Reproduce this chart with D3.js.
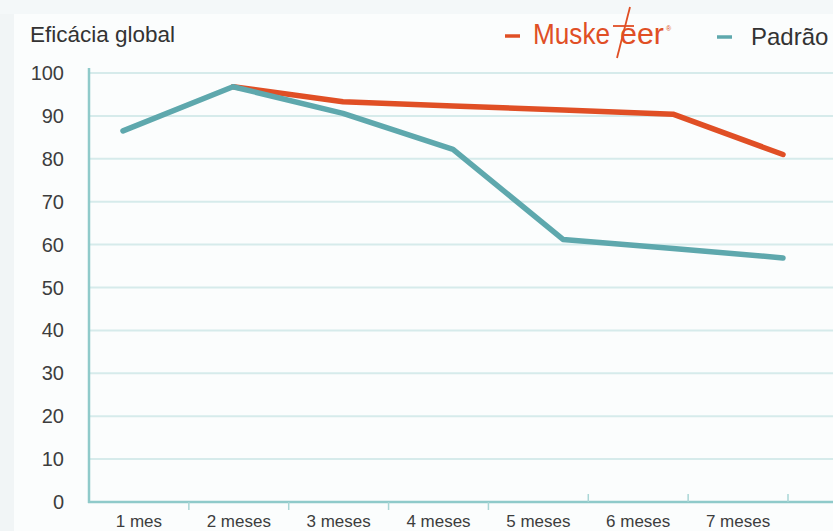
<!DOCTYPE html>
<html>
<head>
<meta charset="utf-8">
<script src="https://cdn.jsdelivr.net/npm/d3@7"></script>
<style>
  body { margin: 0; background: #fbfdfd; }
  svg { display: block; font-family: "Liberation Sans", Arial, sans-serif; }
</style>
</head>
<body>
<svg id="chart" width="833" height="531"></svg>
<script>
// Data
const months = ["1 mes", "2 meses", "3 meses", "4 meses", "5 meses", "6 meses", "7 meses"];
const musketeer = [null, 96.8, 93.3, 92.3, 91.4, 90.4, 81.0];
const padrao = [86.5, 96.8, 90.6, 82.2, 61.2, 59.1, 56.9];
const yTicks = [0, 10, 20, 30, 40, 50, 60, 70, 80, 90, 100];

const svg = d3.select("#chart");
const W = 833, H = 531;
const red = "#e04f25", teal = "#5ea8ad";

// background shading
svg.append("rect").attr("width", W).attr("height", H).attr("fill", "#fbfdfd");
svg.append("rect").attr("width", 14).attr("height", H).attr("fill", "#f1f5f6");
svg.append("rect").attr("width", W).attr("height", 14).attr("fill", "#f4f8f9");

// Scales
var x = d3.scaleBand().domain(months).range([89, 788]);
var xp = d3.scalePoint().domain(months).range([123, 783]);
var y = d3.scaleLinear().domain([0, 100]).range([502, 73]);

// Gridlines
svg.append("g")
    .selectAll("line")
    .data(yTicks.filter(d => d > 0))
    .enter()
    .append("line")
    .attr("x1", 89).attr("x2", W)
    .attr("y1", d => y(d)).attr("y2", d => y(d))
    .attr("stroke", "#d6ebeb")
    .attr("stroke-width", 2);

// Y axis labels
svg.append("g")
    .selectAll("text")
    .data(yTicks)
    .enter()
    .append("text")
    .attr("x", 64)
    .attr("y", d => y(d) + 7)
    .attr("text-anchor", "end")
    .attr("font-size", 20)
    .attr("fill", "#3d3d3d")
    .text(d => d);

// Axis lines
svg.append("line")
    .attr("x1", 89).attr("x2", 89).attr("y1", 68).attr("y2", 503)
    .attr("stroke", "#8fcaca").attr("stroke-width", 2.5);
svg.append("line")
    .attr("x1", 88).attr("x2", W).attr("y1", y(0)).attr("y2", y(0))
    .attr("stroke", "#8fcaca").attr("stroke-width", 2.5);

// Tick marks between categories
svg.append("g")
    .selectAll("line")
    .data(months)
    .enter()
    .append("line")
    .attr("x1", d => x(d) + x.bandwidth()).attr("x2", d => x(d) + x.bandwidth())
    .attr("y1", (d, i) => i < 4 ? y(0) : y(0) - 8)
    .attr("y2", (d, i) => i < 4 ? y(0) + 8 : y(0))
    .attr("stroke", "#a9d6d6").attr("stroke-width", 1.5);

// X axis labels
svg.append("g")
    .selectAll("text")
    .data(months)
    .enter()
    .append("text")
    .attr("x", d => x(d) + x.bandwidth() / 2)
    .attr("y", 527)
    .attr("text-anchor", "middle")
    .attr("font-size", 17)
    .attr("fill", "#3d3d3d")
    .text(d => d);

// Lines
const line = d3.line()
    .defined(d => d.v != null)
    .x(d => xp(d.m))
    .y(d => y(d.v));

svg.append("path")
    .datum(months.map((m, i) => ({ m: m, v: musketeer[i] })))
    .attr("d", line)
    .attr("fill", "none")
    .attr("stroke", red)
    .attr("stroke-width", 5.5)
    .attr("stroke-linejoin", "round")
    .attr("stroke-linecap", "round");

svg.append("path")
    .datum(months.map((m, i) => ({ m: m, v: padrao[i] })))
    .attr("d", line)
    .attr("fill", "none")
    .attr("stroke", teal)
    .attr("stroke-width", 5.5)
    .attr("stroke-linejoin", "round")
    .attr("stroke-linecap", "round");

// Title
svg.append("text")
    .attr("x", 30).attr("y", 42)
    .attr("font-size", 22.5)
    .attr("fill", "#333")
    .text("Eficácia global");

// Legend
svg.append("line")
    .attr("x1", 505).attr("x2", 520).attr("y1", 36).attr("y2", 36)
    .attr("stroke", red).attr("stroke-width", 3.5);
// Musketeer logo: "Muske" + slashed t + "eer"
svg.append("text")
    .attr("x", 533).attr("y", 44)
    .attr("font-size", 30)
    .attr("fill", red)
    .attr("textLength", 77)
    .attr("lengthAdjust", "spacingAndGlyphs")
    .text("Muske");
svg.append("line")
    .attr("x1", 617).attr("x2", 630).attr("y1", 58).attr("y2", 7)
    .attr("stroke", red).attr("stroke-width", 1.8);
svg.append("line")
    .attr("x1", 613).attr("x2", 634).attr("y1", 26).attr("y2", 26)
    .attr("stroke", red).attr("stroke-width", 1.8);
svg.append("text")
    .attr("x", 620).attr("y", 44)
    .attr("font-size", 30)
    .attr("fill", red)
    .attr("textLength", 44)
    .attr("lengthAdjust", "spacingAndGlyphs")
    .text("eer");
svg.append("text")
    .attr("x", 666).attr("y", 31)
    .attr("font-size", 7)
    .attr("fill", red)
    .text("®");
svg.append("line")
    .attr("x1", 717).attr("x2", 732).attr("y1", 37).attr("y2", 37)
    .attr("stroke", teal).attr("stroke-width", 3.5);
svg.append("text")
    .attr("x", 751).attr("y", 45)
    .attr("font-size", 24)
    .attr("fill", "#333")
    .text("Padrão");
</script>
</body>
</html>
